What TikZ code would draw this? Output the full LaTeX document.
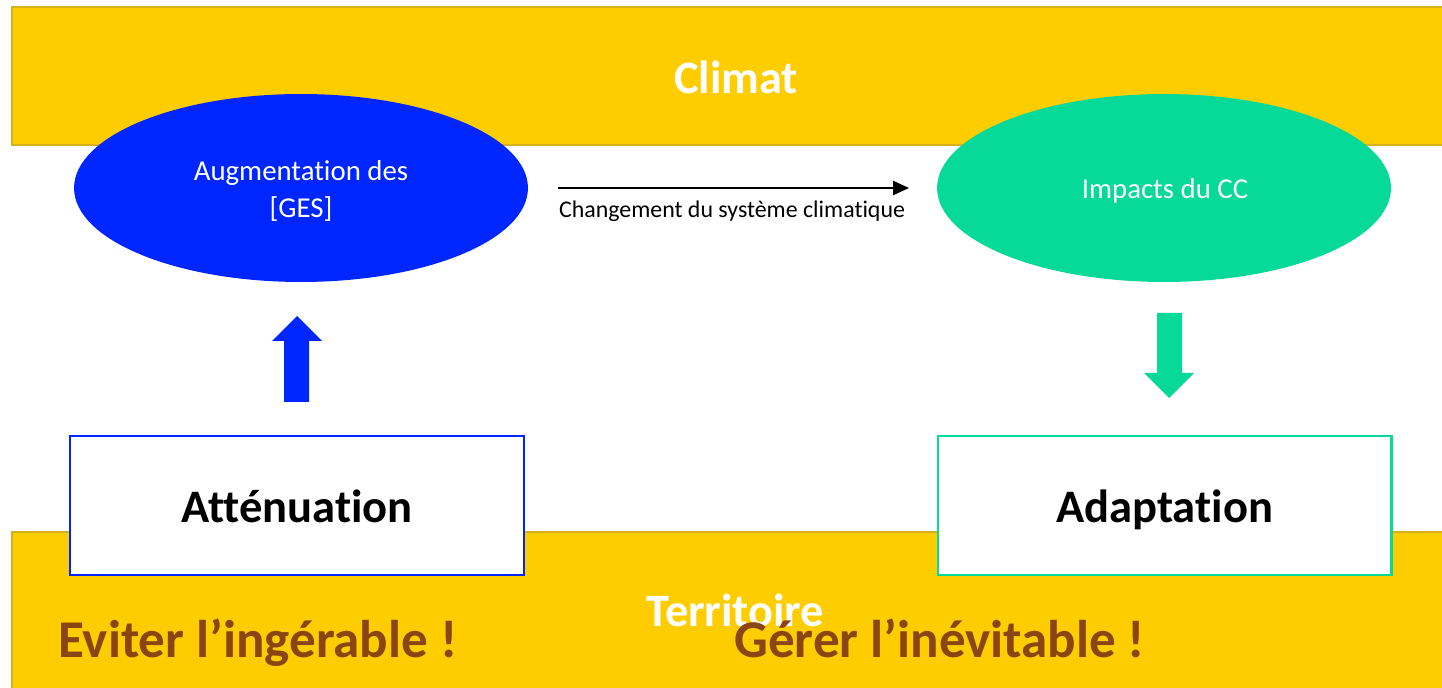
\documentclass[tikz,border=0pt]{standalone}
\usepackage{fontspec}
\setmainfont{Carlito}[RawFeature={-liga;-clig;-dlig;-calt;-rlig}]
\usetikzlibrary{arrows.meta,shapes.geometric}
\definecolor{band}{RGB}{254,205,0}
\definecolor{bandline}{RGB}{214,176,30}
\definecolor{ggblue}{RGB}{0,38,255}
\definecolor{ccgreen}{RGB}{7,217,152}
\definecolor{brownt}{RGB}{139,69,19}
\tikzset{
  bandbox/.style={fill=band, draw=bandline, line width=1.2pt},
  bandtitle/.style={text=white, font=\bfseries\fontsize{26.4}{30}\selectfont},
  bubble/.style={ellipse, minimum width=9.08cm, minimum height=3.76cm, inner sep=0pt},
  bubbletext/.style={text=white, align=center, inner sep=0pt, font=\fontsize{16.4}{21}\selectfont},
  actionbox/.style={draw, fill=white, line width=1.2pt, minimum width=9.08cm, minimum height=2.78cm, inner sep=0pt, text height=19.8pt, text depth=0pt, font=\bfseries\fontsize{26.5}{30}\selectfont},
  motto/.style={text=brownt, font=\bfseries\fontsize{30.2}{34}\selectfont, inner sep=0pt, anchor=base west},
}
\begin{document}
\begin{tikzpicture}[x=0.02cm, y=-0.02cm]
\useasboundingbox (0,0) rectangle (1442,688);
% bands
\path[bandbox] (12,7) rectangle (1460,145);
\path[bandbox] (12,532) rectangle (1460,700);
\node[bandtitle] (climat) at (736,77) {Climat};
% ellipses
\node[bubble, fill=ggblue] (ges) at (301,188) {};
\node[bubbletext] (gestext) at (301,191) {Augmentation des\\{}[GES]};
\node[bubble, fill=ccgreen] (imp) at (1164,188) {};
\node[bubbletext] (imptext) at (1165,191) {Impacts du CC};
% thin arrow
\coordinate (a1) at (558,188);
\coordinate (a2) at (909,188);
\draw[line width=1.1pt, -{Triangle[length=9pt,width=8pt]}] (a1) -- (a2);
\node[font=\fontsize{13.6}{16}\selectfont, inner sep=0pt] (chg) at (732,211) {Changement du système climatique};
% boxes
\node[actionbox, draw=ggblue] (att) at (297,505.5) {Atténuation};
\node[actionbox, draw=ccgreen] (ada) at (1164.5,505.5) {Adaptation};
% fat arrows
\fill[ggblue] (284,402) -- (284,341) -- (272,341) -- (297,316) -- (322,341) -- (309,341) -- (309,402) -- cycle;
\fill[ccgreen] (1157,313) -- (1182,313) -- (1182,373) -- (1194,373) -- (1169,398) -- (1144,373) -- (1157,373) -- cycle;
% bottom texts
\node[bandtitle] (terr) at (735,610) {Territoire};
\node[motto] (evit) at (58,657) {Eviter l’ingérable !};
\node[motto] (gerer) at (734,657) {Gérer l’inévitable !};
\end{tikzpicture}
\end{document}
